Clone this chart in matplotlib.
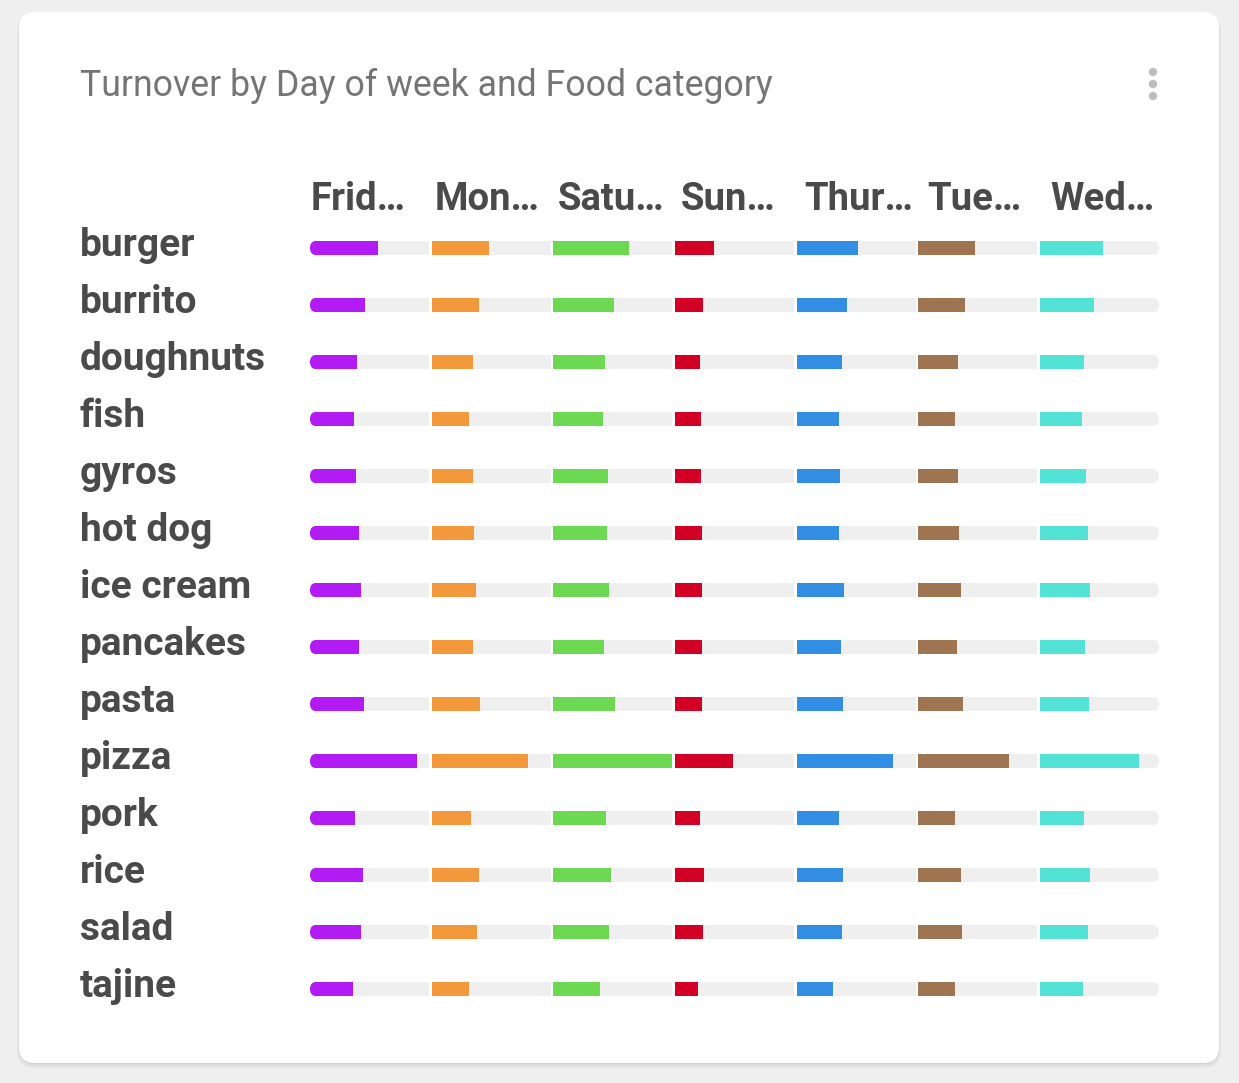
import numpy as np
import matplotlib.pyplot as plt
from matplotlib.patches import FancyBboxPatch, Circle

# data (bar lengths)
day_labels = ["Frid…", "Mon…", "Satu…", "Sun…", "Thur…", "Tue…", "Wed…"]
foods = ["burger", "burrito", "doughnuts", "fish", "gyros", "hot dog", "ice cream",
         "pancakes", "pasta", "pizza", "pork", "rice", "salad", "tajine"]

friday = [68, 55, 47, 44, 46, 49, 51, 49, 54, 107, 45, 53, 51, 43]
monday = [57, 47, 41, 37, 41, 42, 44, 41, 48, 96, 39, 47, 45, 37]
saturday = [76, 61, 52, 50, 55, 54, 56, 51, 62, 119, 53, 58, 56, 47]
sunday = [39, 28, 25, 26, 26, 27, 27, 27, 27, 58, 25, 29, 28, 23]
thursday = [61, 50, 45, 42, 43, 42, 47, 44, 46, 96, 42, 46, 45, 36]
tuesday = [57, 47, 40, 37, 40, 41, 43, 39, 45, 91, 37, 43, 44, 37]
wednesday = [63, 54, 44, 42, 46, 48, 50, 45, 49, 99, 44, 50, 48, 43]

series = [friday, monday, saturday, sunday, thursday, tuesday, wednesday]
colors = ["#b31bf5", "#f4993b", "#6dd852", "#d10024", "#328ee3", "#9e7451", "#53e3d6"]

W, H = 1239, 1083
fig = plt.figure(figsize=(W / 100, H / 100), dpi=100)
fig.patch.set_facecolor("#efefef")

# background axes in pixel units for the card, title and menu dots
bg = fig.add_axes([0, 0, 1, 1])
bg.set_xlim(0, W)
bg.set_ylim(H, 0)
bg.axis("off")
for k, a in enumerate([0.05, 0.04, 0.03]):
    bg.add_patch(FancyBboxPatch((19 - k, 13 + k), 1200 + 2 * k, 1051 + k,
                                boxstyle="round,pad=0,rounding_size=17",
                                fc="#000000", ec="none", alpha=a))
bg.add_patch(FancyBboxPatch((19, 12), 1200, 1051, boxstyle="round,pad=0,rounding_size=16",
                            fc="white", ec="none"))
bg.text(80, 96, "Turnover by Day of week and Food category", fontsize=25.7,
        family=["Roboto", "DejaVu Sans"], color="#757575", va="baseline", ha="left")
for yy in [72, 84, 96]:
    bg.add_patch(Circle((1153, yy), 4.2, fc="#bdbdbd", ec="none"))

# bar axes: x in pixels, y in rows
n = len(foods)
ax_w = 849
track_w = 119
pitch = (ax_w - track_w) / 6
row_px = 57
bh = 14.7 / row_px
top = 248 - row_px / 2
ax = fig.add_axes([310 / W, 1 - (top + n * row_px) / H, ax_w / W, n * row_px / H])
ax.set_xlim(0, ax_w)
ax.set_ylim(n - 0.5, -0.5)
ax.axis("off")
ax.patch.set_alpha(0)

rows = np.arange(n)
vmax = max(max(s) for s in series)

pills = []
for j in rows:
    p = FancyBboxPatch((0, j - bh / 2), ax_w, bh, boxstyle="round,pad=0,rounding_size=7.3",
                       mutation_aspect=1 / row_px, transform=ax.transData)
    pills.append(p)

for i, (vals, c) in enumerate(zip(series, colors)):
    x0 = i * pitch
    tr = ax.barh(rows, track_w, left=x0, height=bh, color="#efefef", linewidth=0)
    fl = ax.barh(rows, np.array(vals) / vmax * track_w, left=x0, height=bh, color=c, linewidth=0)
    for j in rows:
        tr[j].set_clip_path(pills[j])
        fl[j].set_clip_path(pills[j])

font = ["Roboto", "DejaVu Sans"]
for j, name in enumerate(foods):
    ax.text(-230.5, j + 8 / row_px, name, fontsize=28, fontweight="bold", family=font,
            color="#4a4a4a", ha="left", va="baseline", clip_on=False)

for i, lab in enumerate(day_labels):
    ax.text(1 + i * 123.3, (210 - 248) / row_px, lab, fontsize=27.5, fontweight="bold",
            family=font, color="#4a4a4a", ha="left", va="baseline", clip_on=False)

fig.savefig("out.png", dpi=100, facecolor=fig.get_facecolor())
